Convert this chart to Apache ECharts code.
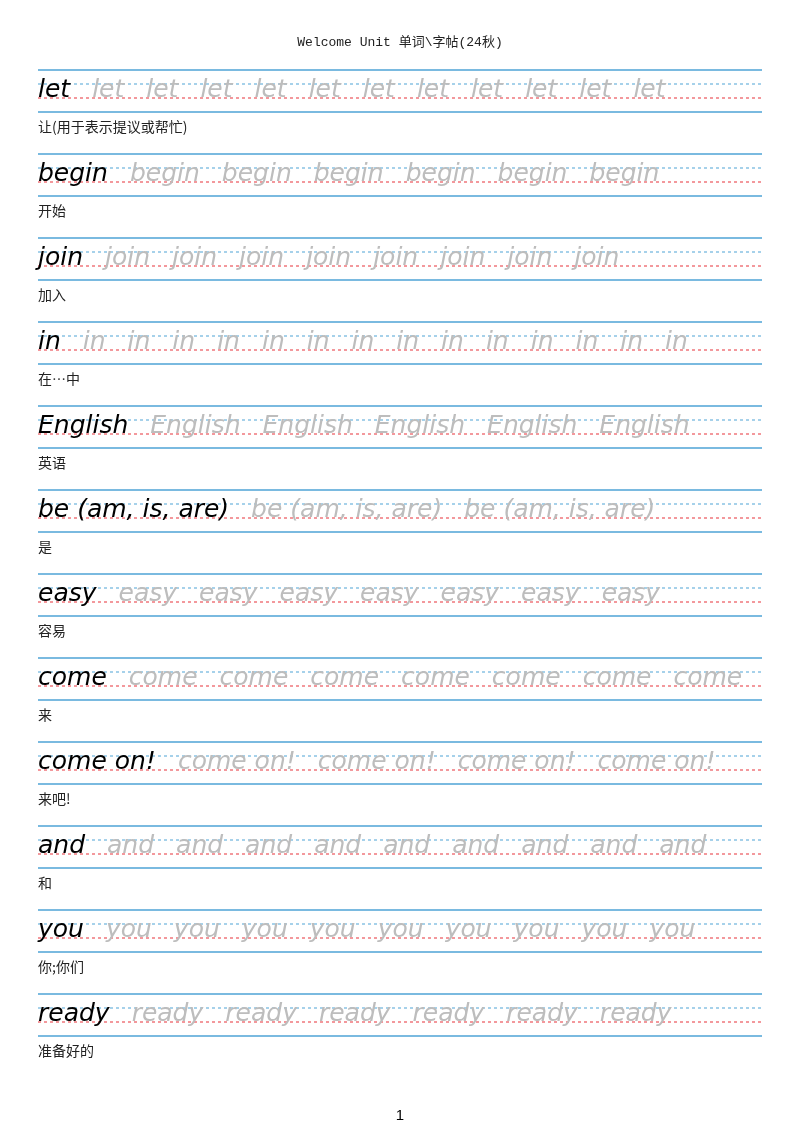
<!DOCTYPE html>
<html><head><meta charset="utf-8">
<script src="https://cdn.jsdelivr.net/npm/echarts@6/dist/echarts.min.js"></script>
<style>html,body{margin:0;padding:0;background:#fff}#c{width:800px;height:1131px}</style>
</head><body><div id="c"></div>
<script>
const words = ['let','begin','join','in','English','be (am, is, are)','easy','come','come on!','and','you','ready'];
const meanings = ['让(用于表示提议或帮忙)','开始','加入','在…中','英语','是','容易','来','来吧!','和','你;你们','准备好的'];
const copies = [11,6,8,14,5,2,7,7,4,9,9,6];
const title = 'Welcome Unit 单词\\字帖(24秋)';

const FONT = 'italic 25px "DejaVu Sans"';
const ctx = document.createElement('canvas').getContext('2d');
ctx.font = FONT;
const data = words.map((w,i)=>[i]);
const chart = echarts.init(document.getElementById('c'));
chart.setOption({
  animation:false,
  title:{text:title,left:'center',top:31,textStyle:{fontFamily:'Liberation Mono, Noto Sans CJK SC',fontWeight:'normal',fontSize:13,color:'#222'}},
  graphic:[{type:'text',left:'center',top:1108,style:{text:'1',font:'15px Liberation Sans',fill:'#000'}}],
  grid:{left:38,right:38,top:70,height:1008},
  xAxis:{type:'value',min:0,max:1,show:false},
  yAxis:{type:'value',min:0,max:12,inverse:true,show:false},
  series:[{
    type:'custom',
    data:data,
    renderItem:function(params, api){
      const i = api.value(0);
      const w = words[i], m = meanings[i], n = copies[i];
      const y0 = api.coord([0,i])[1];
      const yb = api.coord([0,i+14/84])[1];
      const yr = api.coord([0,i+28/84])[1];
      const y3 = api.coord([0,i+42/84])[1];
      const x0 = api.coord([0,i])[0], x1 = api.coord([1,i])[0];
      const ln=(y,c,dash,wd)=>({type:'line',shape:{x1:x0,y1:y,x2:x1,y2:y},style:{stroke:c,lineWidth:wd,lineDash:dash}});
      const tw = ctx.measureText(w).width, gap = 22;
      const kids = [ln(y0,'#4ea3d6',null,1.5),ln(yb,'#4ea3d6',[3,3],1),ln(yr,'#e8333a',[3,3],1),ln(y3,'#4ea3d6',null,1.5)];
      for(let k=0;k<=n;k++){
        kids.push({type:'text',x:x0+k*(tw+gap),y:yr+5,style:{text:w,font:FONT,fill:k===0?'#000':'#bdbdbd',textVerticalAlign:'bottom'}});
      }
      kids.push({type:'text',x:x0,y:y3+8,style:{text:m,font:'14px Noto Sans CJK SC',fill:'#222'}});
      return {type:'group',children:kids};
    }
  }]
});
</script></body></html>
